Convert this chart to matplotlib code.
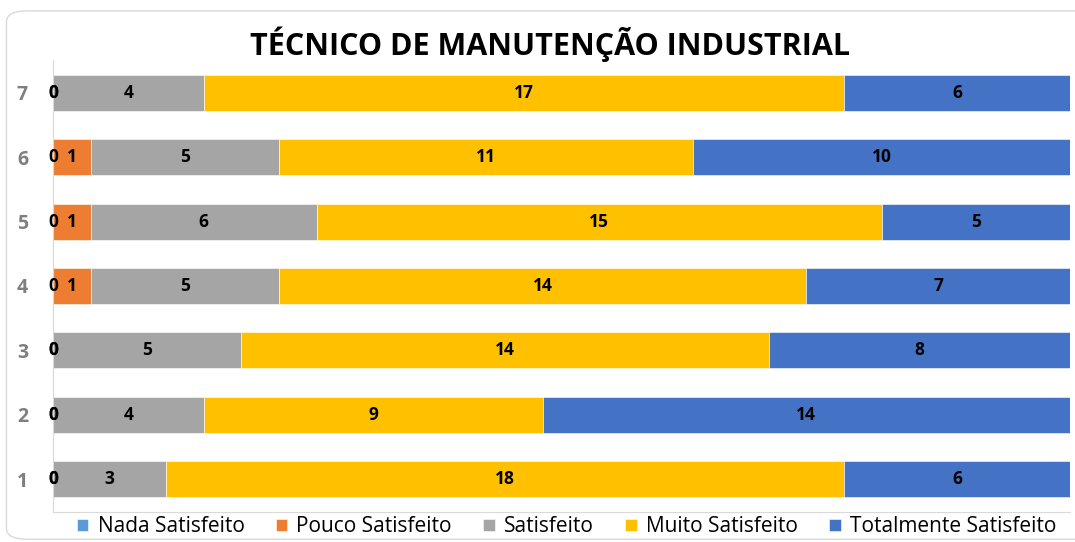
import matplotlib.pyplot as plt
import numpy as np
from matplotlib.patches import FancyBboxPatch

plt.rcParams['font.family'] = ['Open Sans', 'DejaVu Sans']

categorias = ['1', '2', '3', '4', '5', '6', '7']
nada = [0, 0, 0, 0, 0, 0, 0]
pouco = [0, 0, 0, 1, 1, 1, 0]
satisfeito = [3, 4, 5, 5, 6, 5, 4]
muito = [18, 9, 14, 14, 15, 11, 17]
totalmente = [6, 14, 8, 7, 5, 10, 6]

series = [nada, pouco, satisfeito, muito, totalmente]
nomes = ['Nada Satisfeito', 'Pouco Satisfeito', 'Satisfeito', 'Muito Satisfeito', 'Totalmente Satisfeito']
cores = ['#5B9BD5', '#ED7D31', '#A5A5A5', '#FFC000', '#4472C4']

fig = plt.figure(figsize=(10.75, 5.42), dpi=100)
fig.patches.append(FancyBboxPatch((0.006, 0.005), 1.2, 0.975, boxstyle='round,pad=0,rounding_size=0.02',
                                  transform=fig.transFigure, facecolor='white', edgecolor='#d9d9d9',
                                  linewidth=1.0, zorder=-1))
ax = fig.add_axes([0.0493, 0.0554, 0.946, 0.834])

y = np.arange(len(categorias))
esquerda = np.zeros(len(categorias))
for vals, nome, cor in zip(series, nomes, cores):
    barras = ax.barh(y, vals, left=esquerda, height=0.56, color=cor, label=nome,
                     edgecolor='white', linewidth=0.4)
    ax.bar_label(barras, labels=[str(v) for v in vals], label_type='center',
                 fontsize=12.5, fontweight='bold', color='black')
    esquerda += np.array(vals)

ax.set_xlim(0, 27)
ax.set_ylim(-0.51, 6.51)
ax.set_yticks(y)
ax.set_yticklabels(categorias, fontsize=14, color='#7f7f7f', fontweight='bold')
ax.set_xticks([])
ax.tick_params(axis='y', length=0, pad=22)
for lbl in ax.get_yticklabels():
    lbl.set_horizontalalignment('center')
for s in ['top', 'right']:
    ax.spines[s].set_visible(False)
ax.spines['left'].set_color('#d9d9d9')
ax.spines['bottom'].set_color('#d9d9d9')

fig.text(0.512, 0.919, 'TÉCNICO DE MANUTENÇÃO INDUSTRIAL', ha='center', va='center',
         fontsize=22, fontweight='bold', color='black')

fig.legend(loc='center', bbox_to_anchor=(0.527, 0.028), ncol=5, frameon=False,
           fontsize=15, handlelength=0.55, handleheight=0.55, handletextpad=0.45, columnspacing=1.5)

fig.savefig('out.png', dpi=100)
